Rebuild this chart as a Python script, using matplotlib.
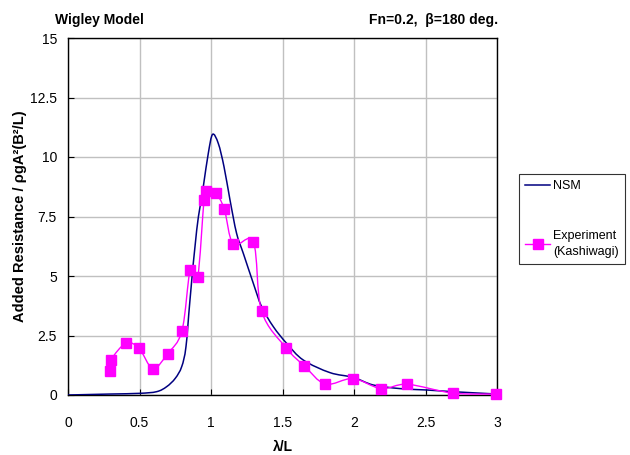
"""Wigley model added resistance in head waves: NSM vs Kashiwagi experiment."""
import matplotlib
matplotlib.use("Agg")
import matplotlib.pyplot as plt
from matplotlib.path import Path
from matplotlib.patches import PathPatch
from matplotlib.lines import Line2D

NSM_C, EXP_C = "#000080", "#FF00FF"

# NSM computed curve
nsm_x = [0.0, 0.29, 0.50, 0.62, 0.69, 0.75, 0.795, 0.825, 0.853, 0.90, 0.946,
         0.981, 1.011, 1.051, 1.091, 1.133, 1.179, 1.226, 1.296, 1.354, 1.436,
         1.529, 1.645, 1.832, 1.995, 2.135, 2.32, 2.51, 2.69, 3.0]
nsm_y = [0.0, 0.04, 0.07, 0.14, 0.35, 0.70, 1.19, 2.03, 3.99, 6.93, 8.75,
         10.15, 10.95, 10.57, 9.59, 8.19, 6.79, 5.95, 4.69, 3.71, 2.87,
         2.17, 1.47, 0.94, 0.74, 0.42, 0.27, 0.21, 0.14, 0.04]

# Experiment (Kashiwagi)
exp_x = [0.294, 0.30, 0.406, 0.497, 0.594, 0.697, 0.797, 0.855, 0.907, 0.951,
         0.967, 1.033, 1.093, 1.156, 1.296, 1.354, 1.527, 1.653, 1.80, 1.993,
         2.19, 2.373, 2.69, 2.99]
exp_y = [1.02, 1.47, 2.18, 1.96, 1.11, 1.74, 2.70, 5.27, 4.96, 8.18,
         8.56, 8.47, 7.81, 6.33, 6.43, 3.52, 1.97, 1.22, 0.46, 0.69,
         0.27, 0.45, 0.08, 0.04]


def smooth_path(xs, ys):
    # Excel-style smoothed line: Catmull-Rom segments as cubic Beziers
    pts = list(zip(xs, ys))
    verts, codes = [pts[0]], [Path.MOVETO]
    n = len(pts)
    for i in range(n - 1):
        p0 = pts[i - 1] if i > 0 else pts[i]
        p1, p2 = pts[i], pts[i + 1]
        p3 = pts[i + 2] if i + 2 < n else pts[i + 1]
        c1 = (p1[0] + (p2[0] - p0[0]) / 6, p1[1] + (p2[1] - p0[1]) / 6)
        c2 = (p2[0] - (p3[0] - p1[0]) / 6, p2[1] - (p3[1] - p1[1]) / 6)
        verts += [c1, c2, p2]
        codes += [Path.CURVE4] * 3
    return Path(verts, codes)


plt.rcParams.update({"font.family": ["Liberation Sans", "DejaVu Sans"],
                     "font.size": 10})
fig = plt.figure(figsize=(6.3, 4.55), dpi=100)
ax = fig.add_axes([68 / 630, 1 - 395 / 455, 429 / 630, 357 / 455])

ax.add_patch(PathPatch(smooth_path(nsm_x, nsm_y), fill=False, ec=NSM_C,
                       lw=1.1, zorder=3))
ax.add_patch(PathPatch(smooth_path(exp_x, exp_y), fill=False, ec=EXP_C,
                       lw=1.0, zorder=4))
ax.plot(exp_x, exp_y, ls="none", marker="s", ms=6.5, color=EXP_C,
        mec=EXP_C, zorder=5, clip_on=False)

ax.set_xlim(0, 3)
ax.set_ylim(0, 15)
ax.set_xticks([0, 0.5, 1, 1.5, 2, 2.5, 3])
ax.set_xticklabels(["0", "0.5", "1", "1.5", "2", "2.5", "3"])
ax.set_yticks([0, 2.5, 5, 7.5, 10, 12.5, 15])
ax.set_yticklabels(["0", "2.5", "5", "7.5", "10", "12.5", "15"])
ax.tick_params(direction="in", length=4, width=0.8, labelsize=10)
ax.tick_params(axis="x", pad=15)
ax.tick_params(axis="y", pad=8)
ax.grid(True, color="#C0C0C0", lw=1.0)
ax.set_axisbelow(True)
for s in ax.spines.values():
    s.set_linewidth(1.0)

ax.set_xlabel("λ/L", fontweight="bold", fontsize=10, va="center")
ax.xaxis.set_label_coords(0.5, (395 - 447) / 357)
ax.set_ylabel("Added Resistance / ρgA²(B²/L)", fontweight="bold",
              fontsize=10.5, va="center")
ax.yaxis.set_label_coords((20 - 68) / 429, 0.5)
fig.text(55 / 630, 1 - 20 / 455, "Wigley Model", fontweight="bold",
         fontsize=10, va="center", ha="left")
fig.text(498 / 630, 1 - 20 / 455, "Fn=0.2,  β=180 deg.", fontweight="bold",
         fontsize=10, va="center", ha="right")

handles = [Line2D([], [], color=NSM_C, lw=1.1),
           Line2D([], [], color=EXP_C, lw=1.0, marker="s", ms=6.5)]
leg = fig.legend(handles, ["NSM", "Experiment\n(Kashiwagi)"],
                 loc="upper left", bbox_to_anchor=(519 / 630, 1 - 174 / 455),
                 frameon=True, fancybox=False, edgecolor="black",
                 fontsize=9, handlelength=2.0, handletextpad=0.25,
                 labelspacing=3.0, borderpad=0.5, borderaxespad=0)
leg.get_frame().set_linewidth(0.8)
for t in leg.get_texts():
    t.set_linespacing(1.45)

fig.savefig("out.png", dpi=100)
